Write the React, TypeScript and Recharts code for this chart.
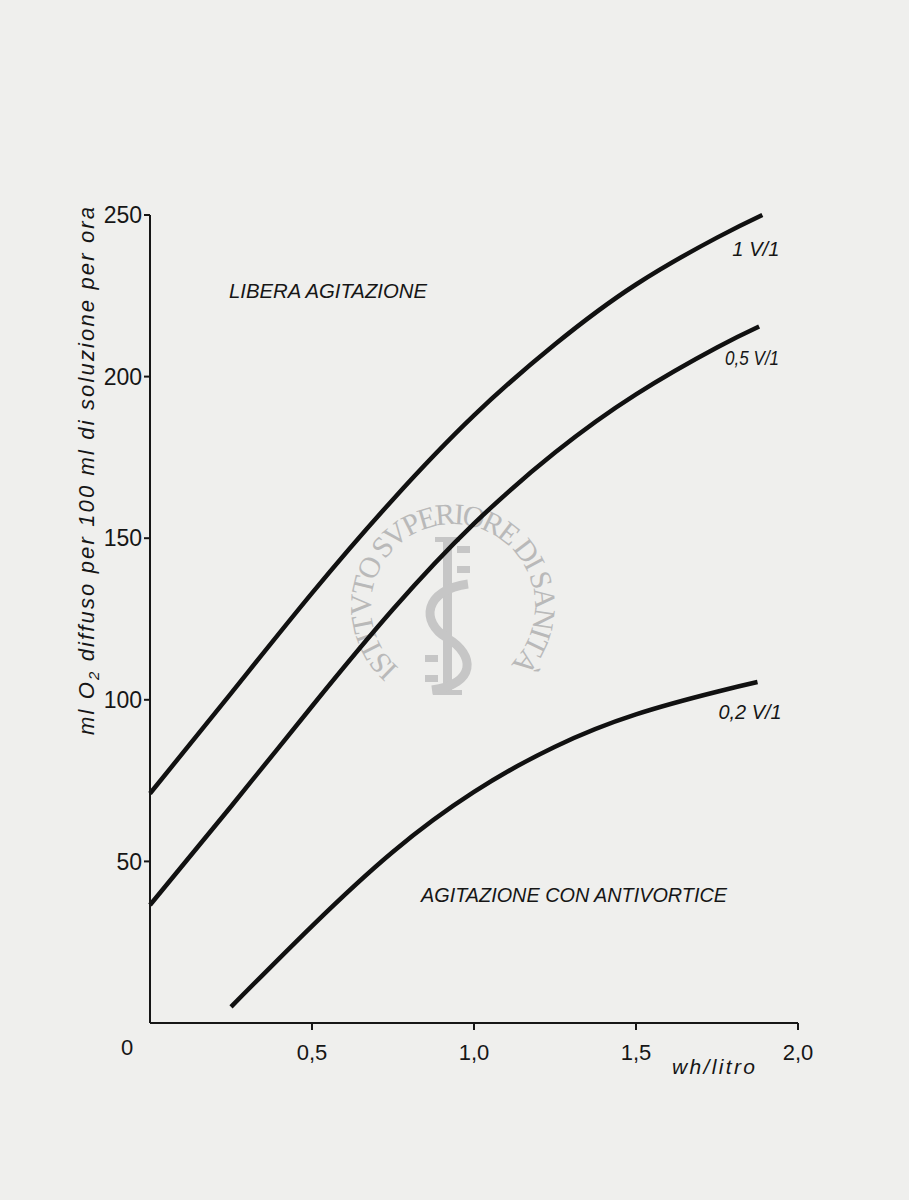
import React from 'react';
import { LineChart, Line, XAxis, YAxis, Customized } from 'recharts';

// ---- data ----
const xTicks = [0, 0.5, 1, 1.5, 2];
const yTicks = [50, 100, 150, 200, 250];

const x1 = [0, 0.25, 0.5, 0.75, 1.0, 1.25, 1.5, 1.75, 1.89];
const y1 = [71, 102, 133, 162, 188, 210, 228.5, 243, 250];

const x05 = [0, 0.25, 0.5, 0.75, 1.0, 1.25, 1.5, 1.75, 1.88];
const y05 = [36.5, 67, 98, 128, 154.5, 176.5, 194.5, 209, 215.5];

const x02 = [0.25, 0.5, 0.75, 1.0, 1.25, 1.5, 1.75, 1.875];
const y02 = [5, 30, 53, 71.5, 85.5, 95.5, 102.5, 105.5];

const seriesNames = ['1 V/1', '0,5 V/1', '0,2 V/1'];

const zip = (xs: number[], ys: number[]) => xs.map((x, i) => ({ x, y: ys[i] }));
const d1 = zip(x1, y1);
const d05 = zip(x05, y05);
const d02 = zip(x02, y02);

const FONT = '"Liberation Sans", Arial, Helvetica, sans-serif';
const INK = '#161616';
const STAMP = '#c6c6c6';
const TICK_SIZE = 7;
const TICK_MARGIN = 14;

const fmt = (v: number) => (v === 0 ? '0' : v.toFixed(1).replace('.', ','));

const XTick = (props: any) => {
  const { x, y, payload } = props;
  const v = payload.value;
  if (v === 0) {
    return (
      <text x={x - 23} y={y} dy={11} textAnchor="middle" fontSize={22} fontFamily={FONT} fill={INK}>
        0
      </text>
    );
  }
  return (
    <g>
      <line x1={x} x2={x} y1={y - TICK_MARGIN - TICK_SIZE} y2={y - TICK_MARGIN} stroke={INK} strokeWidth={2} />
      <text x={x} y={y} dy="0.71em" textAnchor="middle" fontSize={22} fontFamily={FONT} fill={INK}>
        {fmt(v)}
      </text>
    </g>
  );
};

const endLabel = (text: string, last: number, dx: number, dy: number, len: number) => (props: any) => {
  if (props.index !== last) return null;
  const px = props.x ?? props.viewBox?.x;
  const py = props.y ?? props.viewBox?.y;
  if (px == null || py == null) return null;
  return (
    <text
      x={px + dx}
      y={py + dy}
      textAnchor="end"
      fontSize={21}
      fontStyle="italic"
      fontFamily={FONT}
      fill={INK}
      textLength={len}
      lengthAdjust="spacingAndGlyphs"
    >
      {text}
    </text>
  );
};

const Annotations = () => (
  <g>
    {/* archive watermark stamp */}
    <defs>
      <path id="stampArc" d="M 399 668 A 82 82 0 1 1 509 666" fill="none" />
    </defs>
    <text fontSize={30} fontFamily='"Liberation Serif", "DejaVu Serif", serif' fill="#b9b9b9">
      <textPath href="#stampArc" textLength={392} lengthAdjust="spacing">
        ISTITVTO SVPERIORE DI SANITÀ
      </textPath>
    </text>
    <g fill={STAMP} stroke="none">
      <rect x={443} y={540} width={9} height={152} />
      <rect x={435} y={537} width={25} height={5} />
      <rect x={433} y={690} width={29} height={5} />
      <rect x={457} y={546} width={13} height={7} />
      <rect x={457} y={566} width={13} height={7} />
      <rect x={425} y={655} width={13} height={7} />
      <rect x={425} y={675} width={13} height={7} />
    </g>
    <path
      d="M 468 584 C 424 590, 420 622, 447 638 C 476 655, 476 684, 432 690"
      fill="none"
      stroke={STAMP}
      strokeWidth={9}
    />

    <text x={229} y={298} fontSize={21} fontStyle="italic" fontFamily={FONT} fill={INK} textLength={198} lengthAdjust="spacingAndGlyphs">
      LIBERA AGITAZIONE
    </text>
    <text x={421} y={902} fontSize={21} fontStyle="italic" fontFamily={FONT} fill={INK} textLength={306} lengthAdjust="spacingAndGlyphs">
      AGITAZIONE CON ANTIVORTICE
    </text>
    <text x={672} y={1074} fontSize={21} fontStyle="italic" fontFamily={FONT} fill={INK} textLength={83} lengthAdjust="spacing">
      wh/litro
    </text>
    <text
      transform="rotate(-90, 94, 471)"
      x={94}
      y={471}
      textAnchor="middle"
      fontSize={22}
      fontStyle="italic"
      fontFamily={FONT}
      fill={INK}
      textLength={528}
      lengthAdjust="spacing"
    >
      ml O<tspan fontSize={15} dy={5}>2</tspan>
      <tspan dy={-5}> diffuso per 100 ml di soluzione per ora</tspan>
    </text>
  </g>
);

export default function App() {
  return (
    <div style={{ position: 'absolute', left: 0, top: 0, width: 909, height: 1200, background: '#efefed' }}>
      <LineChart width={909} height={1200} margin={{ top: 215, right: 111, bottom: 137, left: 0 }}>
        <XAxis
          dataKey="x"
          type="number"
          domain={[0, 2]}
          ticks={xTicks}
          interval={0}
          height={40}
          axisLine={{ stroke: INK, strokeWidth: 2 }}
          tickLine={false}
          tickSize={TICK_SIZE}
          tickMargin={TICK_MARGIN}
          tick={<XTick />}
          allowDuplicatedCategory={false}
        />
        <YAxis
          type="number"
          domain={[0, 250]}
          ticks={yTicks}
          interval={0}
          width={150}
          axisLine={{ stroke: INK, strokeWidth: 2 }}
          tickLine={{ stroke: INK, strokeWidth: 2 }}
          tickSize={6}
          tickMargin={2}
          tick={{ fontSize: 23, fill: INK, fontFamily: FONT }}
        />
        <Customized component={Annotations} />
        <Line
          data={d1}
          dataKey="y"
          type="natural"
          stroke="#111"
          strokeWidth={4.5}
          dot={false}
          isAnimationActive={false}
          label={endLabel(seriesNames[0], d1.length - 1, 17, 41, 47)}
        />
        <Line
          data={d05}
          dataKey="y"
          type="natural"
          stroke="#111"
          strokeWidth={4.5}
          dot={false}
          isAnimationActive={false}
          label={endLabel(seriesNames[1], d05.length - 1, 20, 38, 54)}
        />
        <Line
          data={d02}
          dataKey="y"
          type="natural"
          stroke="#111"
          strokeWidth={4.5}
          dot={false}
          isAnimationActive={false}
          label={endLabel(seriesNames[2], d02.length - 1, 24, 37, 63)}
        />
      </LineChart>
    </div>
  );
}
